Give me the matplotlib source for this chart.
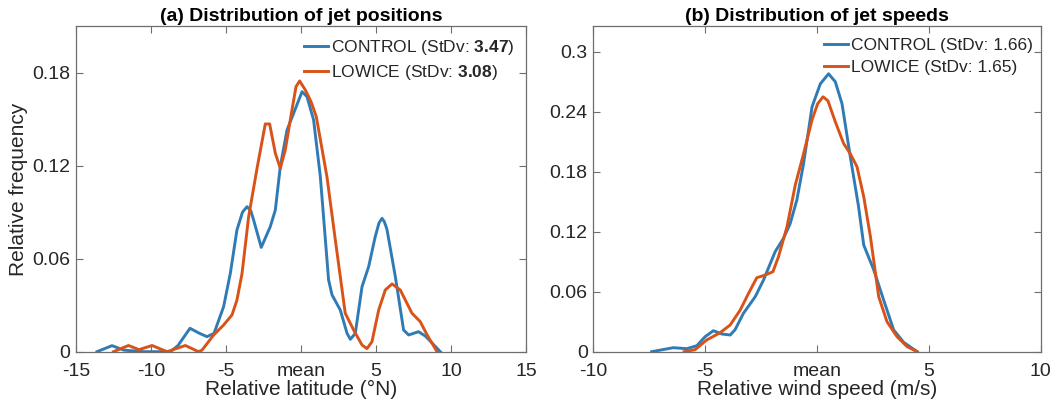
import matplotlib
matplotlib.use("Agg")
import matplotlib.pyplot as plt

plt.rcParams["font.family"] = ["Liberation Sans", "DejaVu Sans"]
plt.rcParams["mathtext.fontset"] = "custom"
plt.rcParams["mathtext.rm"] = "Liberation Sans"
plt.rcParams["mathtext.bf"] = "Liberation Sans:bold"

BLUE = "#2F7BB5"
ORANGE = "#D95319"
INK = "#262626"
AXIS = "#6E6E6E"

# (a) jet latitude relative to the mean
lat_ctrl_x = [-13.6, -12.6, -11.8, -10.5, -8.7, -8.2, -7.4, -6.8, -6.27, -5.8, -5.16, -4.71,
              -4.27, -3.9, -3.6, -3.35, -3.16, -2.65, -2.05, -1.71, -1.38, -0.93, -0.49, 0.07, 0.4,
              0.84, 1.29, 1.84, 2.07, 2.62, 3.07, 3.29, 3.62, 4.07, 4.51, 4.95, 5.2, 5.4,
              5.55, 5.73, 6.29, 6.84, 7.18, 7.84, 8.3, 9.29]
lat_ctrl_y = [0.0, 0.0039, 0.001, 0.0, 0.0, 0.004, 0.0151, 0.012, 0.0097, 0.0118, 0.029, 0.0506,
              0.0785, 0.09, 0.0935, 0.091, 0.085, 0.0673, 0.0806, 0.0914, 0.1194, 0.143, 0.1538, 0.1677, 0.1645,
              0.1495, 0.1129, 0.0463, 0.0366, 0.0269, 0.0119, 0.008, 0.0118, 0.042, 0.0548, 0.0742, 0.083, 0.086,
              0.084, 0.079, 0.0484, 0.014, 0.0108, 0.0129, 0.01, 0.0]
lat_low_x = [-12.5, -11.5, -10.8, -9.93, -8.93, -7.71, -6.83, -6.6, -5.82, -5.16, -4.6, -4.27,
             -3.93, -3.49, -2.93, -2.38, -2.09, -1.71, -1.38, -1.05, -0.6, -0.33, -0.09,
             0.29, 0.67, 1.02, 1.73, 2.29, 2.95, 3.51, 4.07, 4.4, 4.73, 5.18, 5.62,
             6.07, 6.62, 7.4, 7.95, 8.4, 9.07]
lat_low_y = [0.0, 0.004, 0.0013, 0.004, 0.0, 0.004, 0.0, 0.001, 0.0108, 0.0172, 0.0237, 0.0333,
             0.0505, 0.0871, 0.1183, 0.1469, 0.1469, 0.128, 0.1183, 0.13, 0.156, 0.171, 0.1746,
             0.1688, 0.1613, 0.1516, 0.1129, 0.072, 0.0248, 0.014, 0.0043, 0.002, 0.0064, 0.0269, 0.0398,
             0.0437, 0.0398, 0.0248, 0.0194, 0.011, 0.0]

# (b) jet speed relative to the mean
spd_ctrl_x = [-7.39, -6.42, -5.82, -5.37, -5.0, -4.63, -4.25, -3.88, -3.66, -3.29, -2.76, -2.39,
              -1.87, -1.5, -1.2, -0.9, -0.6, -0.22, 0.15, 0.52, 0.82, 1.12, 1.49, 1.86,
              2.09, 2.54, 2.98, 3.43, 3.88, 4.48]
spd_ctrl_y = [0.0, 0.004, 0.003, 0.006, 0.015, 0.021, 0.0177, 0.0167, 0.022, 0.0383, 0.055, 0.0717,
              0.1, 0.1133, 0.128, 0.1517, 0.188, 0.245, 0.268, 0.278, 0.27, 0.248, 0.195, 0.145,
              0.1067, 0.0817, 0.0517, 0.0217, 0.0093, 0.0]
spd_low_x = [-5.94, -5.45, -4.93, -4.33, -3.88, -3.43, -3.06, -2.69, -2.31, -1.97, -1.72, -1.34,
             -0.97, -0.6, -0.22, 0.03, 0.27, 0.49, 0.82, 1.19, 1.49, 1.79, 2.09, 2.39,
             2.76, 3.13, 3.58, 4.03, 4.48]
spd_low_y = [0.0, 0.002, 0.0117, 0.019, 0.0267, 0.0417, 0.0583, 0.074, 0.0767, 0.08, 0.095, 0.125,
             0.1667, 0.198, 0.232, 0.248, 0.255, 0.251, 0.23, 0.2083, 0.198, 0.185, 0.155, 0.115,
             0.055, 0.03, 0.015, 0.005, 0.0]

lat_ticks = [-15, -10, -5, 0, 5, 10, 15]
lat_labels = ["-15", "-10", "-5", "mean", "5", "10", "15"]
spd_ticks = [-10, -5, 0, 5, 10]
spd_labels = ["-10", "-5", "mean", "5", "10"]
lat_yticks = [0, 0.06, 0.12, 0.18]
lat_ylabels = ["0", "0.06", "0.12", "0.18"]
spd_yticks = [0, 0.06, 0.12, 0.18, 0.24, 0.3]
spd_ylabels = ["0", "0.06", "0.12", "0.18", "0.24", "0.3"]

lat_legend = [r"CONTROL (StDv: $\mathbf{3.47}$)", r"LOWICE (StDv: $\mathbf{3.08}$)"]
spd_legend = ["CONTROL (StDv: 1.66)", "LOWICE (StDv: 1.65)"]


def style(ax):
    for s in ax.spines.values():
        s.set_color(AXIS)
        s.set_linewidth(0.9)
    ax.tick_params(direction="in", length=5, width=0.8, color=AXIS,
                   top=True, right=True, labelsize=14, labelcolor=INK)
    ax.tick_params(axis="y", pad=4)
    ax.tick_params(axis="x", pad=8)


fig = plt.figure(figsize=(10.63, 4.08), dpi=100)
ax1 = fig.add_axes([0.0715, 0.138, 0.4233, 0.798])
ax2 = fig.add_axes([0.5581, 0.138, 0.4209, 0.798])

ax1.plot(lat_ctrl_x, lat_ctrl_y, color=BLUE, lw=2.1, label=lat_legend[0])
ax1.plot(lat_low_x, lat_low_y, color=ORANGE, lw=2.1, label=lat_legend[1])
ax1.set_xlim(-15, 15)
ax1.set_ylim(0, 0.21)
ax1.set_xticks(lat_ticks, lat_labels)
ax1.set_yticks(lat_yticks, lat_ylabels)
ax1.set_xlabel("Relative latitude (°N)", fontsize=15, color=INK, labelpad=0)
ax1.set_ylabel("Relative frequency", fontsize=15, color=INK, labelpad=3)
ax1.set_title("(a) Distribution of jet positions", fontsize=14, fontweight="bold", pad=4)

ax2.plot(spd_ctrl_x, spd_ctrl_y, color=BLUE, lw=2.1, label=spd_legend[0])
ax2.plot(spd_low_x, spd_low_y, color=ORANGE, lw=2.1, label=spd_legend[1])
ax2.set_xlim(-10, 10)
ax2.set_ylim(0, 0.3257)
ax2.set_xticks(spd_ticks, spd_labels)
ax2.set_yticks(spd_yticks, spd_ylabels)
ax2.set_xlabel("Relative wind speed (m/s)", fontsize=15, color=INK, labelpad=0)
ax2.set_title("(b) Distribution of jet speeds", fontsize=14, fontweight="bold", pad=4)

for ax, anchor in ((ax1, (0.985, 0.98)), (ax2, (0.994, 0.98))):
    style(ax)
    ax.legend(loc="upper right", bbox_to_anchor=anchor, frameon=False, fontsize=12.5,
              handlelength=1.4, handletextpad=0.15, labelspacing=0.38,
              borderaxespad=0.1, borderpad=0.2, labelcolor=INK)

fig.savefig("out.png", dpi=100)
